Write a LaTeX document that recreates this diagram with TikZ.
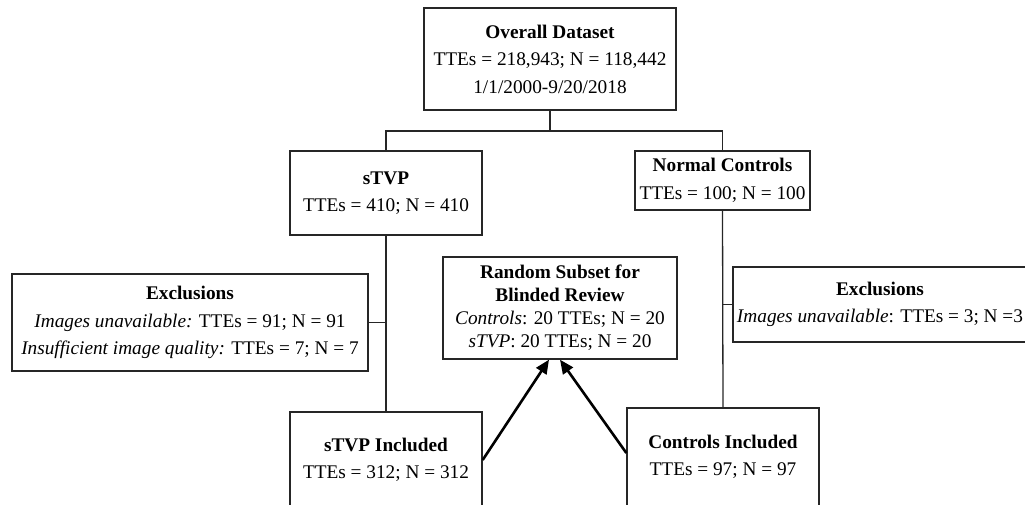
\documentclass[tikz,border=0pt]{standalone}
\usepackage{fontspec}
\setmainfont{Liberation Serif}
\usetikzlibrary{arrows.meta}
\begin{document}
\begin{tikzpicture}[x=1pt,y=-1pt,
  box/.style={draw=black!85,line width=1.3pt,align=center,inner sep=0pt,
    font=\fontsize{19.3}{27.5}\selectfont},
  link/.style={draw=black!85,line width=1.3pt},
  bigarrow/.style={draw=black,line width=2.6pt,-{Triangle[length=14pt,width=12pt]}}]
\useasboundingbox (0,0) rectangle (1025,504);
\clip (0,0) rectangle (1025,504);
\node[box,minimum width=252pt,minimum height=102pt] (overall) at (550,59)
  {\textbf{Overall Dataset}\\TTEs = 218,943; N = 118,442\\1/1/2000-9/20/2018};
\node[box,minimum width=192pt,minimum height=84pt] (stvp) at (386,193)
  {\textbf{sTVP}\\TTEs = 410; N = 410};
\node[box,minimum width=175pt,minimum height=59pt] (nc) at (722.5,180.5)
  {\textbf{Normal Controls}\\TTEs = 100; N = 100};
\node[box,minimum width=356pt,minimum height=97pt] (exL) at (190,322.5)
  {\textbf{Exclusions}\\\textit{Images unavailable:} TTEs = 91; N = 91\\\textit{Insufficient image quality:} TTEs = 7; N = 7};
\node[box,minimum width=234pt,minimum height=102pt,font=\fontsize{19.3}{23}\selectfont] (rand) at (560,308)
  {\textbf{Random Subset for}\\\textbf{Blinded Review}\\\textit{Controls}: 20 TTEs; N = 20\\\textit{sTVP}: 20 TTEs; N = 20};
\node[box,minimum width=294pt,minimum height=75pt] (exR) at (880,304.5)
  {\textbf{Exclusions}\\\textit{Images unavailable}: TTEs = 3; N =3};
\node[box,minimum width=192pt,minimum height=96pt] (stvpinc) at (386,460)
  {\textbf{sTVP Included}\\TTEs = 312; N = 312};
\node[box,minimum width=192pt,minimum height=98pt] (ctrlinc) at (723,457)
  {\textbf{Controls Included}\\TTEs = 97; N = 97};
\coordinate (split) at (550,131);
\draw[link] (overall.south) -- (split);
\draw[link] (split) -| (stvp.north);
\draw[link] (split) -| (nc.north);
\draw[link] (stvp.south) -- (stvpinc.north);
\draw[link] (nc.south) -- (ctrlinc.north);
\draw[link] (exL.east) -- (exL.east -| stvp.south);
\draw[link] (exR.west) -- (exR.west -| nc.south);
\draw[bigarrow] (stvpinc.east) -- ([xshift=-11pt]rand.south);
\draw[bigarrow] ([yshift=4pt]ctrlinc.west) -- ([xshift=0pt]rand.south);
\end{tikzpicture}
\end{document}
